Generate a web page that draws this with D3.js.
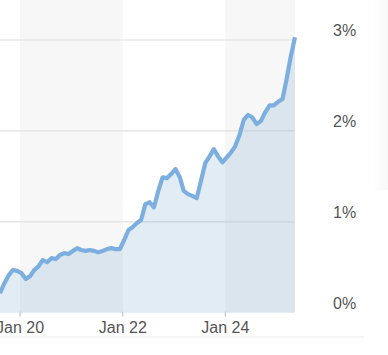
<!DOCTYPE html>
<html>
<head>
<meta charset="utf-8">
<script src="https://cdn.jsdelivr.net/npm/d3@7"></script>
<style>
  html, body { margin: 0; padding: 0; background: #fff; }
  svg { display: block; font-family: "Liberation Sans", Arial, sans-serif; }
</style>
</head>
<body>
<svg id="chart" width="388" height="355"></svg>
<script>
// ---- data ----
const startDate = "2019-08-11"; // first monthly observation
const values = [
  0.215, 0.325, 0.41, 0.47, 0.46, 0.435, 0.37, 0.40, 0.47, 0.51,
  0.58, 0.555, 0.60, 0.59, 0.635, 0.655, 0.645, 0.68, 0.71, 0.69,
  0.68, 0.69, 0.68, 0.665, 0.68, 0.70, 0.71, 0.70, 0.70, 0.80,
  0.91, 0.94, 0.985, 1.02, 1.195, 1.215, 1.16, 1.34, 1.49, 1.48,
  1.525, 1.58, 1.49, 1.34, 1.305, 1.285, 1.26, 1.445, 1.645, 1.72,
  1.80, 1.72, 1.655, 1.71, 1.765, 1.83, 1.955, 2.12, 2.175, 2.15,
  2.075, 2.11, 2.205, 2.28, 2.28, 2.32, 2.35, 2.56, 2.82, 3.03
];
const yTicks = [0, 1, 2, 3];
const yTickLabels = ["0%", "1%", "2%", "3%"];
const xTickDates = ["2020-01-01", "2022-01-01", "2024-01-01"];
const xTickLabels = ["Jan 20", "Jan 22", "Jan 24"];
const bandStarts = ["2020-01-01", "2024-01-01"];

// ---- build ----
const parse = d3.timeParse("%Y-%m-%d");
const t0 = parse(startDate);
const data = values.map((v, i) => ({ date: d3.timeMonth.offset(t0, i), value: v }));

const svg = d3.select("#chart");
const plotLeft = 0, plotRight = 295, plotBottom = 312.7;

const x = d3.scaleTime()
  .domain(d3.extent(data, d => d.date))
  .range([plotLeft, plotRight]);
const y = d3.scaleLinear()
  .domain([0, 3])
  .range([plotBottom, 40]);

// faint card shadow on the right
const defs = svg.append("defs");
const g1 = defs.append("linearGradient").attr("id", "shade").attr("x1", 0).attr("x2", 1);
g1.append("stop").attr("offset", "0%").attr("stop-color", "#ffffff");
g1.append("stop").attr("offset", "100%").attr("stop-color", "#f8f8f8");
svg.append("rect").attr("x", 372).attr("y", 0).attr("width", 16).attr("height", 190)
  .attr("fill", "url(#shade)");

// alternating two-year bands
const [xMin, xMax] = x.domain();
svg.append("g").selectAll("rect")
  .data(bandStarts.map(parse))
  .join("rect")
  .attr("x", d => x(d))
  .attr("y", 0)
  .attr("width", d => {
    const end = d3.timeYear.offset(d, 2);
    return x(end > xMax ? xMax : end) - x(d);
  })
  .attr("height", plotBottom)
  .attr("fill", "#f7f7f7");

// gridlines
svg.append("g").selectAll("line")
  .data(yTicks.filter(d => d > 0))
  .join("line")
  .attr("x1", plotLeft).attr("x2", plotRight)
  .attr("y1", d => y(d)).attr("y2", d => y(d))
  .attr("stroke", "#e0e0e0").attr("stroke-width", 1.2);

// area
svg.append("path")
  .datum(data)
  .attr("fill", "rgb(110,160,200)")
  .attr("fill-opacity", 0.2)
  .attr("d", d3.area().x(d => x(d.date)).y0(y(0)).y1(d => y(d.value)));

// line
svg.append("path")
  .datum(data)
  .attr("fill", "none")
  .attr("stroke", "#7cafe0")
  .attr("stroke-width", 4.2)
  .attr("stroke-linejoin", "round")
  .attr("d", d3.line().x(d => x(d.date)).y(d => y(d.value)));

// y labels (right side)
svg.append("g").selectAll("text")
  .data(yTicks)
  .join("text")
  .attr("x", 333)
  .attr("y", d => y(d) - 4)
  .attr("font-size", 16)
  .attr("fill", "#555")
  .text((d, i) => yTickLabels[i]);

// x ticks and labels
const xt = svg.append("g");
xt.selectAll("line")
  .data(xTickDates.map(parse))
  .join("line")
  .attr("x1", d => x(d)).attr("x2", d => x(d))
  .attr("y1", plotBottom - 1).attr("y2", plotBottom + 4)
  .attr("stroke", "#bbb").attr("stroke-width", 1);
xt.selectAll("text")
  .data(xTickDates.map(parse))
  .join("text")
  .attr("x", d => x(d))
  .attr("y", 332.5)
  .attr("text-anchor", "middle")
  .attr("font-size", 16)
  .attr("fill", "#555")
  .text((d, i) => xTickLabels[i]);

// bottom rule
svg.append("line")
  .attr("x1", 0).attr("x2", 364)
  .attr("y1", 337).attr("y2", 337)
  .attr("stroke", "#eeeeee").attr("stroke-width", 1);
</script>
</body>
</html>
